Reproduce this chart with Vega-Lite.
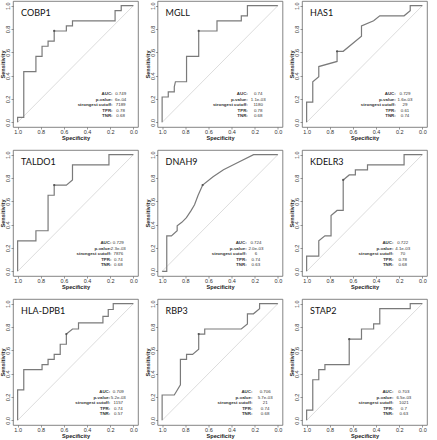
{
"$schema":"https://vega.github.io/schema/vega-lite/v6.json",
"padding":0,
"background":"white",
"columns":3,
"spacing":{"row":8,"column":5.5},
"datasets":{
"roc":[
{"g":"COBP1","i":0,"sp":1,"se":0},{"g":"COBP1","i":1,"sp":1,"se":0.043},{"g":"COBP1","i":2,"sp":0.947,"se":0.043},{"g":"COBP1","i":3,"sp":0.947,"se":0.435},{"g":"COBP1","i":4,"sp":0.842,"se":0.435},{"g":"COBP1","i":5,"sp":0.842,"se":0.565},{"g":"COBP1","i":6,"sp":0.789,"se":0.565},{"g":"COBP1","i":7,"sp":0.789,"se":0.652},{"g":"COBP1","i":8,"sp":0.737,"se":0.652},{"g":"COBP1","i":9,"sp":0.737,"se":0.696},{"g":"COBP1","i":10,"sp":0.684,"se":0.696},{"g":"COBP1","i":11,"sp":0.684,"se":0.783},{"g":"COBP1","i":12,"sp":0.579,"se":0.783},{"g":"COBP1","i":13,"sp":0.579,"se":0.826},{"g":"COBP1","i":14,"sp":0.526,"se":0.826},{"g":"COBP1","i":15,"sp":0.526,"se":0.87},{"g":"COBP1","i":16,"sp":0.158,"se":0.87},{"g":"COBP1","i":17,"sp":0.158,"se":0.957},{"g":"COBP1","i":18,"sp":0.105,"se":0.957},{"g":"COBP1","i":19,"sp":0.105,"se":1},{"g":"COBP1","i":20,"sp":0,"se":1},
{"g":"MGLL","i":0,"sp":1,"se":0},{"g":"MGLL","i":1,"sp":1,"se":0.217},{"g":"MGLL","i":2,"sp":0.947,"se":0.217},{"g":"MGLL","i":3,"sp":0.947,"se":0.261},{"g":"MGLL","i":4,"sp":0.895,"se":0.261},{"g":"MGLL","i":5,"sp":0.895,"se":0.304},{"g":"MGLL","i":6,"sp":0.885,"se":0.348},{"g":"MGLL","i":7,"sp":0.789,"se":0.348},{"g":"MGLL","i":8,"sp":0.789,"se":0.565},{"g":"MGLL","i":9,"sp":0.684,"se":0.565},{"g":"MGLL","i":10,"sp":0.684,"se":0.783},{"g":"MGLL","i":11,"sp":0.526,"se":0.783},{"g":"MGLL","i":12,"sp":0.526,"se":0.87},{"g":"MGLL","i":13,"sp":0.316,"se":0.87},{"g":"MGLL","i":14,"sp":0.316,"se":0.913},{"g":"MGLL","i":15,"sp":0.263,"se":0.913},{"g":"MGLL","i":16,"sp":0.263,"se":1},{"g":"MGLL","i":17,"sp":0,"se":1},
{"g":"HAS1","i":0,"sp":1,"se":0},{"g":"HAS1","i":1,"sp":1,"se":0.174},{"g":"HAS1","i":2,"sp":0.947,"se":0.174},{"g":"HAS1","i":3,"sp":0.947,"se":0.348},{"g":"HAS1","i":4,"sp":0.895,"se":0.391},{"g":"HAS1","i":5,"sp":0.895,"se":0.478},{"g":"HAS1","i":6,"sp":0.737,"se":0.522},{"g":"HAS1","i":7,"sp":0.737,"se":0.609},{"g":"HAS1","i":8,"sp":0.684,"se":0.609},{"g":"HAS1","i":9,"sp":0.526,"se":0.739},{"g":"HAS1","i":10,"sp":0.526,"se":0.826},{"g":"HAS1","i":11,"sp":0.421,"se":0.87},{"g":"HAS1","i":12,"sp":0.368,"se":0.913},{"g":"HAS1","i":13,"sp":0.158,"se":0.913},{"g":"HAS1","i":14,"sp":0.105,"se":0.957},{"g":"HAS1","i":15,"sp":0.105,"se":1},{"g":"HAS1","i":16,"sp":0,"se":1},
{"g":"TALDO1","i":0,"sp":1,"se":0},{"g":"TALDO1","i":1,"sp":1,"se":0.261},{"g":"TALDO1","i":2,"sp":0.842,"se":0.261},{"g":"TALDO1","i":3,"sp":0.842,"se":0.348},{"g":"TALDO1","i":4,"sp":0.737,"se":0.348},{"g":"TALDO1","i":5,"sp":0.737,"se":0.652},{"g":"TALDO1","i":6,"sp":0.684,"se":0.652},{"g":"TALDO1","i":7,"sp":0.684,"se":0.739},{"g":"TALDO1","i":8,"sp":0.579,"se":0.739},{"g":"TALDO1","i":9,"sp":0.526,"se":0.783},{"g":"TALDO1","i":10,"sp":0.526,"se":0.913},{"g":"TALDO1","i":11,"sp":0.211,"se":0.913},{"g":"TALDO1","i":12,"sp":0.211,"se":1},{"g":"TALDO1","i":13,"sp":0,"se":1},
{"g":"DNAH9","i":0,"sp":1,"se":0},{"g":"DNAH9","i":1,"sp":0.96,"se":0},{"g":"DNAH9","i":2,"sp":0.96,"se":0.304},{"g":"DNAH9","i":3,"sp":0.92,"se":0.304},{"g":"DNAH9","i":4,"sp":0.87,"se":0.348},{"g":"DNAH9","i":5,"sp":0.87,"se":0.391},{"g":"DNAH9","i":6,"sp":0.83,"se":0.42},{"g":"DNAH9","i":7,"sp":0.79,"se":0.46},{"g":"DNAH9","i":8,"sp":0.75,"se":0.52},{"g":"DNAH9","i":9,"sp":0.72,"se":0.57},{"g":"DNAH9","i":10,"sp":0.69,"se":0.65},{"g":"DNAH9","i":11,"sp":0.65,"se":0.739},{"g":"DNAH9","i":12,"sp":0.56,"se":0.81},{"g":"DNAH9","i":13,"sp":0.47,"se":0.87},{"g":"DNAH9","i":14,"sp":0.35,"se":0.93},{"g":"DNAH9","i":15,"sp":0.21,"se":1},{"g":"DNAH9","i":16,"sp":0,"se":1},
{"g":"KDELR3","i":0,"sp":1,"se":0},{"g":"KDELR3","i":1,"sp":1,"se":0.13},{"g":"KDELR3","i":2,"sp":0.895,"se":0.13},{"g":"KDELR3","i":3,"sp":0.895,"se":0.261},{"g":"KDELR3","i":4,"sp":0.842,"se":0.304},{"g":"KDELR3","i":5,"sp":0.789,"se":0.304},{"g":"KDELR3","i":6,"sp":0.789,"se":0.478},{"g":"KDELR3","i":7,"sp":0.737,"se":0.522},{"g":"KDELR3","i":8,"sp":0.684,"se":0.522},{"g":"KDELR3","i":9,"sp":0.684,"se":0.783},{"g":"KDELR3","i":10,"sp":0.632,"se":0.826},{"g":"KDELR3","i":11,"sp":0.579,"se":0.826},{"g":"KDELR3","i":12,"sp":0.579,"se":0.87},{"g":"KDELR3","i":13,"sp":0.474,"se":0.87},{"g":"KDELR3","i":14,"sp":0.474,"se":0.913},{"g":"KDELR3","i":15,"sp":0.158,"se":0.913},{"g":"KDELR3","i":16,"sp":0.158,"se":1},{"g":"KDELR3","i":17,"sp":0,"se":1},
{"g":"HLA-DPB1","i":0,"sp":1,"se":0},{"g":"HLA-DPB1","i":1,"sp":1,"se":0.261},{"g":"HLA-DPB1","i":2,"sp":0.947,"se":0.261},{"g":"HLA-DPB1","i":3,"sp":0.947,"se":0.435},{"g":"HLA-DPB1","i":4,"sp":0.789,"se":0.435},{"g":"HLA-DPB1","i":5,"sp":0.789,"se":0.478},{"g":"HLA-DPB1","i":6,"sp":0.737,"se":0.478},{"g":"HLA-DPB1","i":7,"sp":0.737,"se":0.522},{"g":"HLA-DPB1","i":8,"sp":0.684,"se":0.522},{"g":"HLA-DPB1","i":9,"sp":0.684,"se":0.565},{"g":"HLA-DPB1","i":10,"sp":0.632,"se":0.565},{"g":"HLA-DPB1","i":11,"sp":0.632,"se":0.652},{"g":"HLA-DPB1","i":12,"sp":0.579,"se":0.652},{"g":"HLA-DPB1","i":13,"sp":0.579,"se":0.739},{"g":"HLA-DPB1","i":14,"sp":0.526,"se":0.783},{"g":"HLA-DPB1","i":15,"sp":0.474,"se":0.783},{"g":"HLA-DPB1","i":16,"sp":0.474,"se":0.835},{"g":"HLA-DPB1","i":17,"sp":0.263,"se":0.835},{"g":"HLA-DPB1","i":18,"sp":0.263,"se":0.891},{"g":"HLA-DPB1","i":19,"sp":0.217,"se":0.891},{"g":"HLA-DPB1","i":20,"sp":0.217,"se":0.95},{"g":"HLA-DPB1","i":21,"sp":0.174,"se":0.95},{"g":"HLA-DPB1","i":22,"sp":0.174,"se":1},{"g":"HLA-DPB1","i":23,"sp":0,"se":1},
{"g":"RBP3","i":0,"sp":1,"se":0},{"g":"RBP3","i":1,"sp":1,"se":0.217},{"g":"RBP3","i":2,"sp":0.895,"se":0.217},{"g":"RBP3","i":3,"sp":0.842,"se":0.304},{"g":"RBP3","i":4,"sp":0.842,"se":0.522},{"g":"RBP3","i":5,"sp":0.789,"se":0.522},{"g":"RBP3","i":6,"sp":0.789,"se":0.565},{"g":"RBP3","i":7,"sp":0.737,"se":0.565},{"g":"RBP3","i":8,"sp":0.684,"se":0.609},{"g":"RBP3","i":9,"sp":0.684,"se":0.739},{"g":"RBP3","i":10,"sp":0.632,"se":0.739},{"g":"RBP3","i":11,"sp":0.632,"se":0.783},{"g":"RBP3","i":12,"sp":0.316,"se":0.783},{"g":"RBP3","i":13,"sp":0.263,"se":0.826},{"g":"RBP3","i":14,"sp":0.263,"se":0.913},{"g":"RBP3","i":15,"sp":0.211,"se":0.913},{"g":"RBP3","i":16,"sp":0.158,"se":0.957},{"g":"RBP3","i":17,"sp":0.158,"se":1},{"g":"RBP3","i":18,"sp":0,"se":1},
{"g":"STAP2","i":0,"sp":1,"se":0},{"g":"STAP2","i":1,"sp":1,"se":0.087},{"g":"STAP2","i":2,"sp":0.947,"se":0.087},{"g":"STAP2","i":3,"sp":0.947,"se":0.348},{"g":"STAP2","i":4,"sp":0.895,"se":0.348},{"g":"STAP2","i":5,"sp":0.895,"se":0.435},{"g":"STAP2","i":6,"sp":0.842,"se":0.435},{"g":"STAP2","i":7,"sp":0.842,"se":0.478},{"g":"STAP2","i":8,"sp":0.632,"se":0.478},{"g":"STAP2","i":9,"sp":0.632,"se":0.696},{"g":"STAP2","i":10,"sp":0.526,"se":0.696},{"g":"STAP2","i":11,"sp":0.526,"se":0.783},{"g":"STAP2","i":12,"sp":0.421,"se":0.783},{"g":"STAP2","i":13,"sp":0.421,"se":0.826},{"g":"STAP2","i":14,"sp":0.368,"se":0.826},{"g":"STAP2","i":15,"sp":0.368,"se":0.957},{"g":"STAP2","i":16,"sp":0.105,"se":0.957},{"g":"STAP2","i":17,"sp":0.105,"se":1},{"g":"STAP2","i":18,"sp":0,"se":1}
],
"stats":[
{"g":"COBP1","bx":0.684,"by":0.783},{"g":"MGLL","bx":0.684,"by":0.783},{"g":"HAS1","bx":0.737,"by":0.609},
{"g":"TALDO1","bx":0.684,"by":0.739},{"g":"DNAH9","bx":0.65,"by":0.739},{"g":"KDELR3","bx":0.684,"by":0.783},
{"g":"HLA-DPB1","bx":0.579,"by":0.739},{"g":"RBP3","bx":0.684,"by":0.739},{"g":"STAP2","bx":0.632,"by":0.696}
],
"leg":[
{"g":"COBP1","k":1,"label":"AUC:","value":"0.749"},{"g":"COBP1","k":2,"label":"p-value:","value":"6e-04"},{"g":"COBP1","k":3,"label":"strongest cutoff:","value":"7189"},{"g":"COBP1","k":4,"label":"TPR:","value":"0.78"},{"g":"COBP1","k":5,"label":"TNR:","value":"0.68"},
{"g":"MGLL","k":1,"label":"AUC:","value":"0.74"},{"g":"MGLL","k":2,"label":"p-value:","value":"1.1e-03"},{"g":"MGLL","k":3,"label":"strongest cutoff:","value":"1180"},{"g":"MGLL","k":4,"label":"TPR:","value":"0.78"},{"g":"MGLL","k":5,"label":"TNR:","value":"0.68"},
{"g":"HAS1","k":1,"label":"AUC:","value":"0.729"},{"g":"HAS1","k":2,"label":"p-value:","value":"1.6e-03"},{"g":"HAS1","k":3,"label":"strongest cutoff:","value":"29"},{"g":"HAS1","k":4,"label":"TPR:","value":"0.61"},{"g":"HAS1","k":5,"label":"TNR:","value":"0.74"},
{"g":"TALDO1","k":1,"label":"AUC:","value":"0.729"},{"g":"TALDO1","k":2,"label":"p-value:","value":"2.3e-03"},{"g":"TALDO1","k":3,"label":"strongest cutoff:","value":"7876"},{"g":"TALDO1","k":4,"label":"TPR:","value":"0.74"},{"g":"TALDO1","k":5,"label":"TNR:","value":"0.68"},
{"g":"DNAH9","k":1,"label":"AUC:","value":"0.724"},{"g":"DNAH9","k":2,"label":"p-value:","value":"2.0e-03"},{"g":"DNAH9","k":3,"label":"strongest cutoff:","value":"6"},{"g":"DNAH9","k":4,"label":"TPR:","value":"0.74"},{"g":"DNAH9","k":5,"label":"TNR:","value":"0.63"},
{"g":"KDELR3","k":1,"label":"AUC:","value":"0.722"},{"g":"KDELR3","k":2,"label":"p-value:","value":"4.1e-03"},{"g":"KDELR3","k":3,"label":"strongest cutoff:","value":"70"},{"g":"KDELR3","k":4,"label":"TPR:","value":"0.78"},{"g":"KDELR3","k":5,"label":"TNR:","value":"0.68"},
{"g":"HLA-DPB1","k":1,"label":"AUC:","value":"0.709"},{"g":"HLA-DPB1","k":2,"label":"p-value:","value":"5.2e-03"},{"g":"HLA-DPB1","k":3,"label":"strongest cutoff:","value":"1157"},{"g":"HLA-DPB1","k":4,"label":"TPR:","value":"0.74"},{"g":"HLA-DPB1","k":5,"label":"TNR:","value":"0.57"},
{"g":"RBP3","k":1,"label":"AUC:","value":"0.706"},{"g":"RBP3","k":2,"label":"p-value:","value":"5.7e-03"},{"g":"RBP3","k":3,"label":"strongest cutoff:","value":"21"},{"g":"RBP3","k":4,"label":"TPR:","value":"0.74"},{"g":"RBP3","k":5,"label":"TNR:","value":"0.68"},
{"g":"STAP2","k":1,"label":"AUC:","value":"0.703"},{"g":"STAP2","k":2,"label":"p-value:","value":"6.5e-03"},{"g":"STAP2","k":3,"label":"strongest cutoff:","value":"1021"},{"g":"STAP2","k":4,"label":"TPR:","value":"0.7"},{"g":"STAP2","k":5,"label":"TNR:","value":"0.63"}
]
},
"concat":[
{"width":125,"height":126,"resolve":{"scale":{"y":"independent"}},"layer":[
 {"layer":[
  {"data":{"name":"stats"},"transform":[{"filter":"datum.g==='COBP1'"}],"mark":{"type":"rule","color":"#c4c4c4","strokeWidth":0.6},"encoding":{"x":{"datum":1,"type":"quantitative"},"y":{"datum":0,"type":"quantitative"},"x2":{"datum":0},"y2":{"datum":1}}},
  {"data":{"name":"roc"},"transform":[{"filter":"datum.g==='COBP1'"}],"mark":{"type":"line","color":"#7a7a7a","strokeWidth":1.2},"encoding":{"x":{"field":"sp","type":"quantitative","title":"Specificity","scale":{"domain":[-0.04,1.04],"reverse":true,"nice":false,"zero":false},"axis":{"values":[0,0.2,0.4,0.6,0.8,1],"format":".1f","labelOverlap":false}},"y":{"field":"se","type":"quantitative","title":"Sensitivity","scale":{"domain":[-0.04,1.04],"nice":false,"zero":false},"axis":{"values":[0,0.2,0.4,0.6,0.8,1],"format":".1f","labelOverlap":false,"labelAngle":270,"labelAlign":"center","labelBaseline":"bottom"}},"order":{"field":"i"}}},
  {"data":{"name":"stats"},"transform":[{"filter":"datum.g==='COBP1'"}],"mark":{"type":"point","filled":true,"size":5,"color":"#555","opacity":1},"encoding":{"x":{"field":"bx","type":"quantitative"},"y":{"field":"by","type":"quantitative"}}},
  {"data":{"name":"stats"},"transform":[{"filter":"datum.g==='COBP1'"}],"mark":{"type":"text","align":"left","baseline":"middle","font":"Lato","fontSize":9,"color":"#111"},"encoding":{"x":{"datum":0.97,"type":"quantitative"},"y":{"datum":0.94,"type":"quantitative"},"text":{"field":"g"}}}
 ]},
 {"data":{"name":"leg"},"transform":[{"filter":"datum.g==='COBP1'"}],"mark":{"type":"text","align":"right","baseline":"middle","font":"Liberation Sans","fontSize":4.4,"fontWeight":"bold","color":"#333"},"encoding":{"x":{"datum":0.18,"type":"quantitative"},"y":{"field":"k","type":"ordinal","scale":{"type":"point","range":[93,115],"padding":0},"axis":null},"text":{"field":"label"}}},
 {"data":{"name":"leg"},"transform":[{"filter":"datum.g==='COBP1'"}],"mark":{"type":"text","align":"center","baseline":"middle","font":"Liberation Sans","fontSize":4.4,"color":"#333"},"encoding":{"x":{"datum":0.11,"type":"quantitative"},"y":{"field":"k","type":"ordinal","scale":{"type":"point","range":[93,115],"padding":0},"axis":null},"text":{"field":"value"}}}
]},
{"width":125,"height":126,"resolve":{"scale":{"y":"independent"}},"layer":[
 {"layer":[
  {"data":{"name":"stats"},"transform":[{"filter":"datum.g==='MGLL'"}],"mark":{"type":"rule","color":"#c4c4c4","strokeWidth":0.6},"encoding":{"x":{"datum":1,"type":"quantitative"},"y":{"datum":0,"type":"quantitative"},"x2":{"datum":0},"y2":{"datum":1}}},
  {"data":{"name":"roc"},"transform":[{"filter":"datum.g==='MGLL'"}],"mark":{"type":"line","color":"#7a7a7a","strokeWidth":1.2},"encoding":{"x":{"field":"sp","type":"quantitative","title":"Specificity","scale":{"domain":[-0.04,1.04],"reverse":true,"nice":false,"zero":false},"axis":{"values":[0,0.2,0.4,0.6,0.8,1],"format":".1f","labelOverlap":false}},"y":{"field":"se","type":"quantitative","title":"Sensitivity","scale":{"domain":[-0.04,1.04],"nice":false,"zero":false},"axis":{"values":[0,0.2,0.4,0.6,0.8,1],"format":".1f","labelOverlap":false,"labelAngle":270,"labelAlign":"center","labelBaseline":"bottom"}},"order":{"field":"i"}}},
  {"data":{"name":"stats"},"transform":[{"filter":"datum.g==='MGLL'"}],"mark":{"type":"point","filled":true,"size":5,"color":"#555","opacity":1},"encoding":{"x":{"field":"bx","type":"quantitative"},"y":{"field":"by","type":"quantitative"}}},
  {"data":{"name":"stats"},"transform":[{"filter":"datum.g==='MGLL'"}],"mark":{"type":"text","align":"left","baseline":"middle","font":"Lato","fontSize":9,"color":"#111"},"encoding":{"x":{"datum":0.97,"type":"quantitative"},"y":{"datum":0.94,"type":"quantitative"},"text":{"field":"g"}}}
 ]},
 {"data":{"name":"leg"},"transform":[{"filter":"datum.g==='MGLL'"}],"mark":{"type":"text","align":"right","baseline":"middle","font":"Liberation Sans","fontSize":4.4,"fontWeight":"bold","color":"#333"},"encoding":{"x":{"datum":0.26,"type":"quantitative"},"y":{"field":"k","type":"ordinal","scale":{"type":"point","range":[93,115],"padding":0},"axis":null},"text":{"field":"label"}}},
 {"data":{"name":"leg"},"transform":[{"filter":"datum.g==='MGLL'"}],"mark":{"type":"text","align":"center","baseline":"middle","font":"Liberation Sans","fontSize":4.4,"color":"#333"},"encoding":{"x":{"datum":0.17,"type":"quantitative"},"y":{"field":"k","type":"ordinal","scale":{"type":"point","range":[93,115],"padding":0},"axis":null},"text":{"field":"value"}}}
]},
{"width":125,"height":126,"resolve":{"scale":{"y":"independent"}},"layer":[
 {"layer":[
  {"data":{"name":"stats"},"transform":[{"filter":"datum.g==='HAS1'"}],"mark":{"type":"rule","color":"#c4c4c4","strokeWidth":0.6},"encoding":{"x":{"datum":1,"type":"quantitative"},"y":{"datum":0,"type":"quantitative"},"x2":{"datum":0},"y2":{"datum":1}}},
  {"data":{"name":"roc"},"transform":[{"filter":"datum.g==='HAS1'"}],"mark":{"type":"line","color":"#7a7a7a","strokeWidth":1.2},"encoding":{"x":{"field":"sp","type":"quantitative","title":"Specificity","scale":{"domain":[-0.04,1.04],"reverse":true,"nice":false,"zero":false},"axis":{"values":[0,0.2,0.4,0.6,0.8,1],"format":".1f","labelOverlap":false}},"y":{"field":"se","type":"quantitative","title":"Sensitivity","scale":{"domain":[-0.04,1.04],"nice":false,"zero":false},"axis":{"values":[0,0.2,0.4,0.6,0.8,1],"format":".1f","labelOverlap":false,"labelAngle":270,"labelAlign":"center","labelBaseline":"bottom"}},"order":{"field":"i"}}},
  {"data":{"name":"stats"},"transform":[{"filter":"datum.g==='HAS1'"}],"mark":{"type":"point","filled":true,"size":5,"color":"#555","opacity":1},"encoding":{"x":{"field":"bx","type":"quantitative"},"y":{"field":"by","type":"quantitative"}}},
  {"data":{"name":"stats"},"transform":[{"filter":"datum.g==='HAS1'"}],"mark":{"type":"text","align":"left","baseline":"middle","font":"Lato","fontSize":9,"color":"#111"},"encoding":{"x":{"datum":0.97,"type":"quantitative"},"y":{"datum":0.94,"type":"quantitative"},"text":{"field":"g"}}}
 ]},
 {"data":{"name":"leg"},"transform":[{"filter":"datum.g==='HAS1'"}],"mark":{"type":"text","align":"right","baseline":"middle","font":"Liberation Sans","fontSize":4.4,"fontWeight":"bold","color":"#333"},"encoding":{"x":{"datum":0.23,"type":"quantitative"},"y":{"field":"k","type":"ordinal","scale":{"type":"point","range":[93,115],"padding":0},"axis":null},"text":{"field":"label"}}},
 {"data":{"name":"leg"},"transform":[{"filter":"datum.g==='HAS1'"}],"mark":{"type":"text","align":"center","baseline":"middle","font":"Liberation Sans","fontSize":4.4,"color":"#333"},"encoding":{"x":{"datum":0.15,"type":"quantitative"},"y":{"field":"k","type":"ordinal","scale":{"type":"point","range":[93,115],"padding":0},"axis":null},"text":{"field":"value"}}}
]},
{"width":125,"height":126,"resolve":{"scale":{"y":"independent"}},"layer":[
 {"layer":[
  {"data":{"name":"stats"},"transform":[{"filter":"datum.g==='TALDO1'"}],"mark":{"type":"rule","color":"#c4c4c4","strokeWidth":0.6},"encoding":{"x":{"datum":1,"type":"quantitative"},"y":{"datum":0,"type":"quantitative"},"x2":{"datum":0},"y2":{"datum":1}}},
  {"data":{"name":"roc"},"transform":[{"filter":"datum.g==='TALDO1'"}],"mark":{"type":"line","color":"#7a7a7a","strokeWidth":1.2},"encoding":{"x":{"field":"sp","type":"quantitative","title":"Specificity","scale":{"domain":[-0.04,1.04],"reverse":true,"nice":false,"zero":false},"axis":{"values":[0,0.2,0.4,0.6,0.8,1],"format":".1f","labelOverlap":false}},"y":{"field":"se","type":"quantitative","title":"Sensitivity","scale":{"domain":[-0.04,1.04],"nice":false,"zero":false},"axis":{"values":[0,0.2,0.4,0.6,0.8,1],"format":".1f","labelOverlap":false,"labelAngle":270,"labelAlign":"center","labelBaseline":"bottom"}},"order":{"field":"i"}}},
  {"data":{"name":"stats"},"transform":[{"filter":"datum.g==='TALDO1'"}],"mark":{"type":"point","filled":true,"size":5,"color":"#555","opacity":1},"encoding":{"x":{"field":"bx","type":"quantitative"},"y":{"field":"by","type":"quantitative"}}},
  {"data":{"name":"stats"},"transform":[{"filter":"datum.g==='TALDO1'"}],"mark":{"type":"text","align":"left","baseline":"middle","font":"Lato","fontSize":9,"color":"#111"},"encoding":{"x":{"datum":0.97,"type":"quantitative"},"y":{"datum":0.94,"type":"quantitative"},"text":{"field":"g"}}}
 ]},
 {"data":{"name":"leg"},"transform":[{"filter":"datum.g==='TALDO1'"}],"mark":{"type":"text","align":"right","baseline":"middle","font":"Liberation Sans","fontSize":4.4,"fontWeight":"bold","color":"#333"},"encoding":{"x":{"datum":0.19,"type":"quantitative"},"y":{"field":"k","type":"ordinal","scale":{"type":"point","range":[93,115],"padding":0},"axis":null},"text":{"field":"label"}}},
 {"data":{"name":"leg"},"transform":[{"filter":"datum.g==='TALDO1'"}],"mark":{"type":"text","align":"center","baseline":"middle","font":"Liberation Sans","fontSize":4.4,"color":"#333"},"encoding":{"x":{"datum":0.13,"type":"quantitative"},"y":{"field":"k","type":"ordinal","scale":{"type":"point","range":[93,115],"padding":0},"axis":null},"text":{"field":"value"}}}
]},
{"width":125,"height":126,"resolve":{"scale":{"y":"independent"}},"layer":[
 {"layer":[
  {"data":{"name":"stats"},"transform":[{"filter":"datum.g==='DNAH9'"}],"mark":{"type":"rule","color":"#c4c4c4","strokeWidth":0.6},"encoding":{"x":{"datum":1,"type":"quantitative"},"y":{"datum":0,"type":"quantitative"},"x2":{"datum":0},"y2":{"datum":1}}},
  {"data":{"name":"roc"},"transform":[{"filter":"datum.g==='DNAH9'"}],"mark":{"type":"line","color":"#7a7a7a","strokeWidth":1.2},"encoding":{"x":{"field":"sp","type":"quantitative","title":"Specificity","scale":{"domain":[-0.04,1.04],"reverse":true,"nice":false,"zero":false},"axis":{"values":[0,0.2,0.4,0.6,0.8,1],"format":".1f","labelOverlap":false}},"y":{"field":"se","type":"quantitative","title":"Sensitivity","scale":{"domain":[-0.04,1.04],"nice":false,"zero":false},"axis":{"values":[0,0.2,0.4,0.6,0.8,1],"format":".1f","labelOverlap":false,"labelAngle":270,"labelAlign":"center","labelBaseline":"bottom"}},"order":{"field":"i"}}},
  {"data":{"name":"stats"},"transform":[{"filter":"datum.g==='DNAH9'"}],"mark":{"type":"point","filled":true,"size":5,"color":"#555","opacity":1},"encoding":{"x":{"field":"bx","type":"quantitative"},"y":{"field":"by","type":"quantitative"}}},
  {"data":{"name":"stats"},"transform":[{"filter":"datum.g==='DNAH9'"}],"mark":{"type":"text","align":"left","baseline":"middle","font":"Lato","fontSize":9,"color":"#111"},"encoding":{"x":{"datum":0.97,"type":"quantitative"},"y":{"datum":0.94,"type":"quantitative"},"text":{"field":"g"}}}
 ]},
 {"data":{"name":"leg"},"transform":[{"filter":"datum.g==='DNAH9'"}],"mark":{"type":"text","align":"right","baseline":"middle","font":"Liberation Sans","fontSize":4.4,"fontWeight":"bold","color":"#333"},"encoding":{"x":{"datum":0.27,"type":"quantitative"},"y":{"field":"k","type":"ordinal","scale":{"type":"point","range":[93,115],"padding":0},"axis":null},"text":{"field":"label"}}},
 {"data":{"name":"leg"},"transform":[{"filter":"datum.g==='DNAH9'"}],"mark":{"type":"text","align":"center","baseline":"middle","font":"Liberation Sans","fontSize":4.4,"color":"#333"},"encoding":{"x":{"datum":0.19,"type":"quantitative"},"y":{"field":"k","type":"ordinal","scale":{"type":"point","range":[93,115],"padding":0},"axis":null},"text":{"field":"value"}}}
]},
{"width":125,"height":126,"resolve":{"scale":{"y":"independent"}},"layer":[
 {"layer":[
  {"data":{"name":"stats"},"transform":[{"filter":"datum.g==='KDELR3'"}],"mark":{"type":"rule","color":"#c4c4c4","strokeWidth":0.6},"encoding":{"x":{"datum":1,"type":"quantitative"},"y":{"datum":0,"type":"quantitative"},"x2":{"datum":0},"y2":{"datum":1}}},
  {"data":{"name":"roc"},"transform":[{"filter":"datum.g==='KDELR3'"}],"mark":{"type":"line","color":"#7a7a7a","strokeWidth":1.2},"encoding":{"x":{"field":"sp","type":"quantitative","title":"Specificity","scale":{"domain":[-0.04,1.04],"reverse":true,"nice":false,"zero":false},"axis":{"values":[0,0.2,0.4,0.6,0.8,1],"format":".1f","labelOverlap":false}},"y":{"field":"se","type":"quantitative","title":"Sensitivity","scale":{"domain":[-0.04,1.04],"nice":false,"zero":false},"axis":{"values":[0,0.2,0.4,0.6,0.8,1],"format":".1f","labelOverlap":false,"labelAngle":270,"labelAlign":"center","labelBaseline":"bottom"}},"order":{"field":"i"}}},
  {"data":{"name":"stats"},"transform":[{"filter":"datum.g==='KDELR3'"}],"mark":{"type":"point","filled":true,"size":5,"color":"#555","opacity":1},"encoding":{"x":{"field":"bx","type":"quantitative"},"y":{"field":"by","type":"quantitative"}}},
  {"data":{"name":"stats"},"transform":[{"filter":"datum.g==='KDELR3'"}],"mark":{"type":"text","align":"left","baseline":"middle","font":"Lato","fontSize":9,"color":"#111"},"encoding":{"x":{"datum":0.97,"type":"quantitative"},"y":{"datum":0.94,"type":"quantitative"},"text":{"field":"g"}}}
 ]},
 {"data":{"name":"leg"},"transform":[{"filter":"datum.g==='KDELR3'"}],"mark":{"type":"text","align":"right","baseline":"middle","font":"Liberation Sans","fontSize":4.4,"fontWeight":"bold","color":"#333"},"encoding":{"x":{"datum":0.25,"type":"quantitative"},"y":{"field":"k","type":"ordinal","scale":{"type":"point","range":[93,115],"padding":0},"axis":null},"text":{"field":"label"}}},
 {"data":{"name":"leg"},"transform":[{"filter":"datum.g==='KDELR3'"}],"mark":{"type":"text","align":"center","baseline":"middle","font":"Liberation Sans","fontSize":4.4,"color":"#333"},"encoding":{"x":{"datum":0.17,"type":"quantitative"},"y":{"field":"k","type":"ordinal","scale":{"type":"point","range":[93,115],"padding":0},"axis":null},"text":{"field":"value"}}}
]},
{"width":125,"height":126,"resolve":{"scale":{"y":"independent"}},"layer":[
 {"layer":[
  {"data":{"name":"stats"},"transform":[{"filter":"datum.g==='HLA-DPB1'"}],"mark":{"type":"rule","color":"#c4c4c4","strokeWidth":0.6},"encoding":{"x":{"datum":1,"type":"quantitative"},"y":{"datum":0,"type":"quantitative"},"x2":{"datum":0},"y2":{"datum":1}}},
  {"data":{"name":"roc"},"transform":[{"filter":"datum.g==='HLA-DPB1'"}],"mark":{"type":"line","color":"#7a7a7a","strokeWidth":1.2},"encoding":{"x":{"field":"sp","type":"quantitative","title":"Specificity","scale":{"domain":[-0.04,1.04],"reverse":true,"nice":false,"zero":false},"axis":{"values":[0,0.2,0.4,0.6,0.8,1],"format":".1f","labelOverlap":false}},"y":{"field":"se","type":"quantitative","title":"Sensitivity","scale":{"domain":[-0.04,1.04],"nice":false,"zero":false},"axis":{"values":[0,0.2,0.4,0.6,0.8,1],"format":".1f","labelOverlap":false,"labelAngle":270,"labelAlign":"center","labelBaseline":"bottom"}},"order":{"field":"i"}}},
  {"data":{"name":"stats"},"transform":[{"filter":"datum.g==='HLA-DPB1'"}],"mark":{"type":"point","filled":true,"size":5,"color":"#555","opacity":1},"encoding":{"x":{"field":"bx","type":"quantitative"},"y":{"field":"by","type":"quantitative"}}},
  {"data":{"name":"stats"},"transform":[{"filter":"datum.g==='HLA-DPB1'"}],"mark":{"type":"text","align":"left","baseline":"middle","font":"Lato","fontSize":9,"color":"#111"},"encoding":{"x":{"datum":0.97,"type":"quantitative"},"y":{"datum":0.94,"type":"quantitative"},"text":{"field":"g"}}}
 ]},
 {"data":{"name":"leg"},"transform":[{"filter":"datum.g==='HLA-DPB1'"}],"mark":{"type":"text","align":"right","baseline":"middle","font":"Liberation Sans","fontSize":4.4,"fontWeight":"bold","color":"#333"},"encoding":{"x":{"datum":0.2,"type":"quantitative"},"y":{"field":"k","type":"ordinal","scale":{"type":"point","range":[93,115],"padding":0},"axis":null},"text":{"field":"label"}}},
 {"data":{"name":"leg"},"transform":[{"filter":"datum.g==='HLA-DPB1'"}],"mark":{"type":"text","align":"center","baseline":"middle","font":"Liberation Sans","fontSize":4.4,"color":"#333"},"encoding":{"x":{"datum":0.13,"type":"quantitative"},"y":{"field":"k","type":"ordinal","scale":{"type":"point","range":[93,115],"padding":0},"axis":null},"text":{"field":"value"}}}
]},
{"width":125,"height":126,"resolve":{"scale":{"y":"independent"}},"layer":[
 {"layer":[
  {"data":{"name":"stats"},"transform":[{"filter":"datum.g==='RBP3'"}],"mark":{"type":"rule","color":"#c4c4c4","strokeWidth":0.6},"encoding":{"x":{"datum":1,"type":"quantitative"},"y":{"datum":0,"type":"quantitative"},"x2":{"datum":0},"y2":{"datum":1}}},
  {"data":{"name":"roc"},"transform":[{"filter":"datum.g==='RBP3'"}],"mark":{"type":"line","color":"#7a7a7a","strokeWidth":1.2},"encoding":{"x":{"field":"sp","type":"quantitative","title":"Specificity","scale":{"domain":[-0.04,1.04],"reverse":true,"nice":false,"zero":false},"axis":{"values":[0,0.2,0.4,0.6,0.8,1],"format":".1f","labelOverlap":false}},"y":{"field":"se","type":"quantitative","title":"Sensitivity","scale":{"domain":[-0.04,1.04],"nice":false,"zero":false},"axis":{"values":[0,0.2,0.4,0.6,0.8,1],"format":".1f","labelOverlap":false,"labelAngle":270,"labelAlign":"center","labelBaseline":"bottom"}},"order":{"field":"i"}}},
  {"data":{"name":"stats"},"transform":[{"filter":"datum.g==='RBP3'"}],"mark":{"type":"point","filled":true,"size":5,"color":"#555","opacity":1},"encoding":{"x":{"field":"bx","type":"quantitative"},"y":{"field":"by","type":"quantitative"}}},
  {"data":{"name":"stats"},"transform":[{"filter":"datum.g==='RBP3'"}],"mark":{"type":"text","align":"left","baseline":"middle","font":"Lato","fontSize":9,"color":"#111"},"encoding":{"x":{"datum":0.97,"type":"quantitative"},"y":{"datum":0.94,"type":"quantitative"},"text":{"field":"g"}}}
 ]},
 {"data":{"name":"leg"},"transform":[{"filter":"datum.g==='RBP3'"}],"mark":{"type":"text","align":"right","baseline":"middle","font":"Liberation Sans","fontSize":4.4,"fontWeight":"bold","color":"#333"},"encoding":{"x":{"datum":0.22,"type":"quantitative"},"y":{"field":"k","type":"ordinal","scale":{"type":"point","range":[93,115],"padding":0},"axis":null},"text":{"field":"label"}}},
 {"data":{"name":"leg"},"transform":[{"filter":"datum.g==='RBP3'"}],"mark":{"type":"text","align":"center","baseline":"middle","font":"Liberation Sans","fontSize":4.4,"color":"#333"},"encoding":{"x":{"datum":0.11,"type":"quantitative"},"y":{"field":"k","type":"ordinal","scale":{"type":"point","range":[93,115],"padding":0},"axis":null},"text":{"field":"value"}}}
]},
{"width":125,"height":126,"resolve":{"scale":{"y":"independent"}},"layer":[
 {"layer":[
  {"data":{"name":"stats"},"transform":[{"filter":"datum.g==='STAP2'"}],"mark":{"type":"rule","color":"#c4c4c4","strokeWidth":0.6},"encoding":{"x":{"datum":1,"type":"quantitative"},"y":{"datum":0,"type":"quantitative"},"x2":{"datum":0},"y2":{"datum":1}}},
  {"data":{"name":"roc"},"transform":[{"filter":"datum.g==='STAP2'"}],"mark":{"type":"line","color":"#7a7a7a","strokeWidth":1.2},"encoding":{"x":{"field":"sp","type":"quantitative","title":"Specificity","scale":{"domain":[-0.04,1.04],"reverse":true,"nice":false,"zero":false},"axis":{"values":[0,0.2,0.4,0.6,0.8,1],"format":".1f","labelOverlap":false}},"y":{"field":"se","type":"quantitative","title":"Sensitivity","scale":{"domain":[-0.04,1.04],"nice":false,"zero":false},"axis":{"values":[0,0.2,0.4,0.6,0.8,1],"format":".1f","labelOverlap":false,"labelAngle":270,"labelAlign":"center","labelBaseline":"bottom"}},"order":{"field":"i"}}},
  {"data":{"name":"stats"},"transform":[{"filter":"datum.g==='STAP2'"}],"mark":{"type":"point","filled":true,"size":5,"color":"#555","opacity":1},"encoding":{"x":{"field":"bx","type":"quantitative"},"y":{"field":"by","type":"quantitative"}}},
  {"data":{"name":"stats"},"transform":[{"filter":"datum.g==='STAP2'"}],"mark":{"type":"text","align":"left","baseline":"middle","font":"Lato","fontSize":9,"color":"#111"},"encoding":{"x":{"datum":0.97,"type":"quantitative"},"y":{"datum":0.94,"type":"quantitative"},"text":{"field":"g"}}}
 ]},
 {"data":{"name":"leg"},"transform":[{"filter":"datum.g==='STAP2'"}],"mark":{"type":"text","align":"right","baseline":"middle","font":"Liberation Sans","fontSize":4.4,"fontWeight":"bold","color":"#333"},"encoding":{"x":{"datum":0.25,"type":"quantitative"},"y":{"field":"k","type":"ordinal","scale":{"type":"point","range":[93,115],"padding":0},"axis":null},"text":{"field":"label"}}},
 {"data":{"name":"leg"},"transform":[{"filter":"datum.g==='STAP2'"}],"mark":{"type":"text","align":"center","baseline":"middle","font":"Liberation Sans","fontSize":4.4,"color":"#333"},"encoding":{"x":{"datum":0.16,"type":"quantitative"},"y":{"field":"k","type":"ordinal","scale":{"type":"point","range":[93,115],"padding":0},"axis":null},"text":{"field":"value"}}}
]}
],
"config":{
"view":{"stroke":"#666","strokeWidth":0.8},
"axis":{"grid":false,"domain":false,"tickCount":6,"labelOverlap":false,"labelFlush":false,"labelBound":false,"tickSize":2,"labelPadding":0.5,"titlePadding":0,"labelFont":"Liberation Sans","labelFontSize":5.5,"labelColor":"#333","titleFont":"Liberation Sans","titleFontSize":5.6,"titleFontWeight":"bold","titleColor":"#222","tickColor":"#555","tickWidth":0.6}
}
}
